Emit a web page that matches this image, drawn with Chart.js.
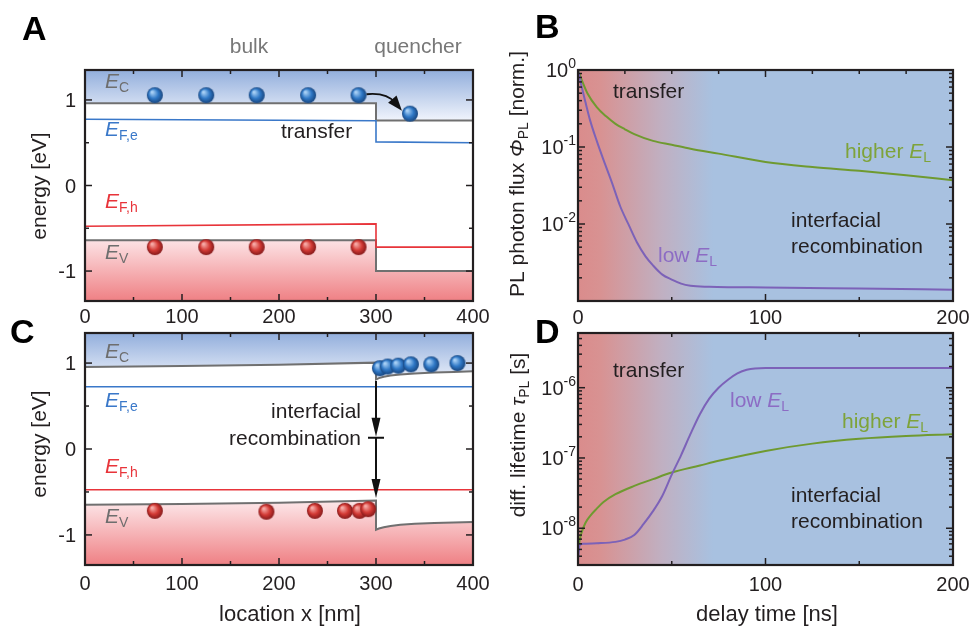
<!DOCTYPE html>
<html>
<head>
<meta charset="utf-8">
<script src="https://cdn.jsdelivr.net/npm/chart.js@4.4.0/dist/chart.umd.min.js"></script>
<style>
  body { margin: 0; background: #fff; }
  #wrap { position: relative; width: 971px; height: 627px; }
  #wrap canvas { position: absolute; left: 0; top: 0; }
</style>
</head>
<body>
<div id="wrap">
  <canvas id="chartA" width="971" height="627"></canvas>
  <canvas id="chartB" width="971" height="627"></canvas>
  <canvas id="chartC" width="971" height="627"></canvas>
  <canvas id="chartD" width="971" height="627"></canvas>
</div>
<script>
// --- Panel A: band diagram during transfer ---
const bandXA = [0, 300, 300, 400];
const ecA = [0.96, 0.96, 0.76, 0.76];
const efeA = [0.775, 0.756, 0.51, 0.50];
const efhA = [-0.477, -0.449, -0.72, -0.72];
const evA = [-0.64, -0.64, -1.0, -1.0];
const electronXA = [72, 125, 177, 230, 282, 335];
const electronYA = [1.055, 1.055, 1.055, 1.055, 1.055, 0.84];
const holeXA = [72, 125, 177, 230, 282];
const holeYA = [-0.72, -0.72, -0.72, -0.72, -0.72];

// --- Panel C: band diagram during interfacial recombination ---
const bandXC = [0, 100, 200, 300, 300, 303, 308, 315, 325, 340, 360, 380, 400];
const ecC = [0.955, 0.965, 0.98, 1.005, 0.81, 0.825, 0.84, 0.855, 0.868, 0.88, 0.89, 0.897, 0.905];
const evC = [-0.65, -0.64, -0.625, -0.60, -0.94, -0.925, -0.91, -0.895, -0.882, -0.87, -0.86, -0.855, -0.85];
const fermiXC = [0, 400];
const efeC = [0.725, 0.725];
const efhC = [-0.475, -0.475];
const electronXC = [304, 312, 323, 336, 357, 384];
const electronYC = [0.94, 0.96, 0.97, 0.985, 0.985, 1.0];
const holeXC = [72, 187, 237, 268, 283, 292];
const holeYC = [-0.72, -0.73, -0.72, -0.72, -0.72, -0.70];
const recombX = 300;
const recombY = [0.79, 0.13, -0.57];

const energyTicks = [1, 0, -1];
const energyTickLabels = ['1', '0', '-1'];
const energyMinor = [0.5, -0.5];
const locationTicks = [0, 100, 200, 300, 400];
const locationTickLabels = ['0', '100', '200', '300', '400'];
const locationMinor = [50, 150, 250, 350];

// --- Panel B: PL transients ---
const timeGreenB = [0, 2, 5, 10, 15, 20, 25, 30, 40, 50, 60, 75, 100, 125, 150, 175, 200];
const fluxGreenB = [1, 0.74, 0.5, 0.33, 0.25, 0.2, 0.17, 0.147, 0.12, 0.107, 0.095, 0.082, 0.064, 0.055, 0.049, 0.043, 0.037];
const timePurpleB = [0, 2, 4, 6.5, 10, 13.6, 18, 22.5, 27, 31.4, 36, 40, 45, 50, 55, 60, 70, 80, 100, 150, 200];
const fluxPurpleB = [1, 0.6, 0.38, 0.22, 0.12, 0.068, 0.035, 0.017, 0.0098, 0.0058, 0.0038, 0.0029, 0.0022, 0.0019, 0.00168, 0.00158, 0.00153, 0.00151, 0.0015, 0.00145, 0.0014];

// --- Panel D: differential lifetime ---
const timePurpleD = [0, 1, 3, 10, 20, 25, 30, 35, 40, 45, 50, 55, 60, 65, 70, 75, 80, 85, 90, 100, 150, 200];
const lifePurpleD = [3.6e-9, 5.8e-9, 6.0e-9, 6.1e-9, 6.4e-9, 6.9e-9, 8e-9, 1.15e-8, 1.75e-8, 2.9e-8, 5.8e-8, 1.1e-7, 2.2e-7, 4.2e-7, 7e-7, 1.0e-6, 1.3e-6, 1.6e-6, 1.8e-6, 1.9e-6, 1.9e-6, 1.9e-6];
const timeGreenD = [0, 1, 2, 4, 6.5, 10, 13.6, 20, 30, 40, 50, 65, 75, 100, 125, 150, 175, 200];
const lifeGreenD = [4.5e-9, 7e-9, 8.8e-9, 1.2e-8, 1.5e-8, 1.9e-8, 2.36e-8, 3.05e-8, 4e-8, 5e-8, 6.2e-8, 7.8e-8, 9.1e-8, 1.26e-7, 1.6e-7, 1.87e-7, 2.05e-7, 2.17e-7];

const timeTicks = [0, 100, 200];
const timeTickLabels = ['0', '100', '200'];
const timeMinor = [50, 150];
const timeMinorTopB = [25, 50, 75, 125, 150, 175];
const fluxTicks = [1, 0.1, 0.01];
const fluxExps = ['0', '-1', '-2'];
const lifeTicks = [1e-6, 1e-7, 1e-8];
const lifeExps = ['-6', '-7', '-8'];

// background shading from "transfer" (red) to "interfacial recombination" (blue)
const bgStopT = [0, 12, 45, 72];
const bgStopColor = ['rgb(218,140,140)', 'rgb(216,146,146)', 'rgb(192,176,194)', 'rgb(168,193,224)'];

const FONT = '"Liberation Sans", Arial, Helvetica, sans-serif';
const INK = '#231f20';
const GRAY_LINE = 'rgb(112,112,112)';
const GRAY_TEXT = 'rgb(110,110,110)';
const BLUE = '#3a78c9';
const RED = '#e8343a';
const GREEN = '#6f9a30';
const PURPLE = '#7c62b8';

const pts = (xs, ys) => xs.map((x, i) => ({ x, y: ys[i] }));

function makeSphere(light, mid, dark, r) {
    const c = document.createElement('canvas');
    c.width = c.height = 2 * r + 2;
    const g = c.getContext('2d');
    const cx = r + 1, cy = r + 1;
    const grad = g.createRadialGradient(cx - r * 0.35, cy - r * 0.4, r * 0.1, cx, cy, r);
    grad.addColorStop(0, light);
    grad.addColorStop(0.55, mid);
    grad.addColorStop(1, dark);
    g.fillStyle = grad;
    g.beginPath();
    g.arc(cx, cy, r, 0, Math.PI * 2);
    g.fill();
    return c;
}
const blueBall = makeSphere('#a8d0f5', '#2f78c6', '#18467f', 8);
const redBall = makeSphere('#f6aaa6', '#d33a35', '#85191a', 8);

function vGradient(top, bottom, c0, c1) {
    return function (ctx) {
        const chart = ctx.chart;
        if (!chart.chartArea) return c1;
        const y = chart.scales.y;
        const g = chart.ctx.createLinearGradient(0, y.getPixelForValue(top), 0, y.getPixelForValue(bottom));
        g.addColorStop(0, c0);
        g.addColorStop(1, c1);
        return g;
    };
}

// draws text made of several pieces (italic E, subscripts, ...)
function drawRich(ctx, x, y, parts, align, color) {
    ctx.save();
    ctx.fillStyle = color;
    ctx.textBaseline = 'alphabetic';
    ctx.textAlign = 'left';
    let total = 0;
    parts.forEach(p => {
        ctx.font = (p.italic ? 'italic ' : '') + (p.bold ? 'bold ' : '') + p.size + 'px ' + FONT;
        p.w = ctx.measureText(p.t).width;
        total += p.w;
    });
    let cx = align === 'right' ? x - total : align === 'center' ? x - total / 2 : x;
    parts.forEach(p => {
        ctx.font = (p.italic ? 'italic ' : '') + (p.bold ? 'bold ' : '') + p.size + 'px ' + FONT;
        ctx.fillText(p.t, cx, y + (p.dy || 0));
        cx += p.w;
    });
    ctx.restore();
}

function drawTexts(ctx, texts) {
    (texts || []).forEach(t => {
        if (t.rotate) {
            ctx.save();
            ctx.translate(t.x, t.y);
            ctx.rotate(-Math.PI / 2);
            drawRich(ctx, 0, 0, t.parts, 'center', t.color);
            ctx.restore();
        } else {
            drawRich(ctx, t.x, t.y, t.parts, t.align || 'left', t.color);
        }
    });
}

const plain = (t, size) => [{ t, size: size || 21 }];
const sym = (main, sub) => [{ t: main, size: 21, italic: true }, { t: sub, size: 14, dy: 4 }];

function drawFrame(chart, cfg) {
    const ctx = chart.ctx, ca = chart.chartArea;
    const xs = chart.scales.x, ys = chart.scales.y;
    ctx.save();
    ctx.strokeStyle = INK;
    ctx.lineWidth = 1.5;
    const seg = (x1, y1, x2, y2) => { ctx.beginPath(); ctx.moveTo(x1, y1); ctx.lineTo(x2, y2); ctx.stroke(); };
    const xt = (vals, len, bottom, top) => vals.forEach(v => {
        const px = xs.getPixelForValue(v);
        if (bottom) seg(px, ca.bottom, px, ca.bottom - len);
        if (top) seg(px, ca.top, px, ca.top + len);
    });
    const yt = (vals, len) => vals.forEach(v => {
        const py = ys.getPixelForValue(v);
        seg(ca.left, py, ca.left + len, py);
        seg(ca.right, py, ca.right - len, py);
    });
    xt(cfg.xMajor, 7, true, true);
    xt(cfg.xMinor, 4, true, !cfg.xMinorTop);
    if (cfg.xMinorTop) xt(cfg.xMinorTop, 4, false, true);
    yt(cfg.yMajor, 7);
    yt(cfg.yMinor, 4);
    ctx.lineWidth = 2.2;
    ctx.strokeRect(ca.left, ca.top, ca.right - ca.left, ca.bottom - ca.top);

    ctx.fillStyle = INK;
    ctx.font = '20px ' + FONT;
    ctx.textAlign = 'center';
    ctx.textBaseline = 'alphabetic';
    cfg.xMajor.forEach((v, i) => ctx.fillText(cfg.xLabels[i], xs.getPixelForValue(v), cfg.xLabelY));
    cfg.yMajor.forEach((v, i) => {
        const py = ys.getPixelForValue(v);
        if (cfg.yExps) {
            const right = ca.left - 2;
            ctx.textAlign = 'right';
            ctx.font = '14px ' + FONT;
            const w = ctx.measureText(cfg.yExps[i]).width;
            ctx.fillText(cfg.yExps[i], right, py - 2);
            ctx.font = '20px ' + FONT;
            ctx.fillText('10', right - w, py + 7);
        } else {
            ctx.textAlign = 'right';
            ctx.fillText(cfg.yLabels[i], ca.left - 9, py + 7);
        }
    });
    ctx.restore();
}

function drawBg(chart) {
    const ctx = chart.ctx, ca = chart.chartArea, xs = chart.scales.x;
    const g = ctx.createLinearGradient(ca.left, 0, ca.right, 0);
    bgStopT.forEach((t, i) => {
        g.addColorStop((xs.getPixelForValue(t) - ca.left) / (ca.right - ca.left), bgStopColor[i]);
    });
    ctx.save();
    ctx.fillStyle = g;
    ctx.fillRect(ca.left, ca.top, ca.right - ca.left, ca.bottom - ca.top);
    ctx.restore();
}

function framePlugin(cfg) {
    return {
        id: 'frame',
        beforeDatasetsDraw(chart) { if (cfg.bg) drawBg(chart); },
        afterDatasetsDraw(chart) {
            drawFrame(chart, cfg);
            if (cfg.extra) cfg.extra(chart);
            drawTexts(chart.ctx, cfg.texts);
        }
    };
}

function arrowHead(ctx, tipX, tipY, ang, len, half) {
    ctx.beginPath();
    ctx.moveTo(tipX, tipY);
    ctx.lineTo(tipX - len * Math.cos(ang) + half * Math.sin(ang), tipY - len * Math.sin(ang) - half * Math.cos(ang));
    ctx.lineTo(tipX - len * Math.cos(ang) - half * Math.sin(ang), tipY - len * Math.sin(ang) + half * Math.cos(ang));
    ctx.closePath();
    ctx.fill();
}

function bandDatasets(bx, ec, ev, fx, efe, fh, efh, ex, ey, hx, hy) {
    return [
        { data: pts(ex, ey), pointStyle: blueBall, pointRadius: 8, order: 0 },
        { data: pts(hx, hy), pointStyle: redBall, pointRadius: 8, order: 0 },
        { data: pts(bx, ec), showLine: true, borderColor: GRAY_LINE, borderWidth: 2, pointRadius: 0, tension: 0,
          fill: 'end', backgroundColor: vGradient(1.35, 0.76, 'rgb(146,174,220)', 'rgb(240,244,252)'), order: 2 },
        { data: pts(bx, ev), showLine: true, borderColor: GRAY_LINE, borderWidth: 2, pointRadius: 0, tension: 0,
          fill: 'start', backgroundColor: vGradient(-0.6, -1.35, 'rgb(253,232,234)', 'rgb(239,128,132)'), order: 2 },
        { data: pts(fx, efe), showLine: true, borderColor: BLUE, borderWidth: 1.6, pointRadius: 0, tension: 0, fill: false, order: 1 },
        { data: pts(fh, efh), showLine: true, borderColor: RED, borderWidth: 1.6, pointRadius: 0, tension: 0, fill: false, order: 1 }
    ];
}

function baseOptions(pad, yType, yMin, yMax, xMax) {
    return {
        responsive: false,
        animation: false,
        devicePixelRatio: 1,
        layout: { padding: pad },
        scales: {
            x: { type: 'linear', display: false, min: 0, max: xMax },
            y: { type: yType, display: false, min: yMin, max: yMax }
        },
        plugins: { legend: { display: false }, tooltip: { enabled: false }, filler: { drawTime: 'beforeDatasetsDraw' } },
        elements: { point: { radius: 0 } }
    };
}

// Panel A
new Chart(document.getElementById('chartA'), {
    type: 'scatter',
    data: { datasets: bandDatasets(bandXA, ecA, evA, bandXA, efeA, bandXA, efhA, electronXA, electronYA, holeXA, holeYA) },
    options: baseOptions({ left: 85, top: 70, right: 498, bottom: 326 }, 'linear', -1.35, 1.35, 400),
    plugins: [framePlugin({
        xMajor: locationTicks, xMinor: locationMinor, xLabels: locationTickLabels, xLabelY: 323,
        yMajor: energyTicks, yMinor: energyMinor, yLabels: energyTickLabels,
        texts: [
            { x: 22, y: 40, parts: [{ t: 'A', size: 34, bold: true }], color: '#000' },
            { x: 249, y: 53, parts: plain('bulk'), align: 'center', color: 'rgb(120,120,120)' },
            { x: 418, y: 53, parts: plain('quencher'), align: 'center', color: 'rgb(120,120,120)' },
            { x: 46, y: 186, parts: plain('energy [eV]'), rotate: true, color: INK },
            { x: 105, y: 88, parts: sym('E', 'C'), color: GRAY_TEXT },
            { x: 105, y: 136, parts: sym('E', 'F,e'), color: BLUE },
            { x: 105, y: 208, parts: sym('E', 'F,h'), color: RED },
            { x: 105, y: 259, parts: sym('E', 'V'), color: GRAY_TEXT },
            { x: 281, y: 138, parts: plain('transfer'), color: INK }
        ],
        extra(chart) {
            const xs = chart.scales.x, ys = chart.scales.y, ctx = chart.ctx;
            const i = electronXA.length - 2;
            const sx = xs.getPixelForValue(electronXA[i]) + 8, sy = ys.getPixelForValue(electronYA[i]) - 1;
            const tx = xs.getPixelForValue(electronXA[i + 1]) - 8, ty = ys.getPixelForValue(electronYA[i + 1]) - 3;
            const cx = sx + 20, cy = sy - 2;
            const ang = Math.atan2(ty - cy, tx - cx);
            ctx.save();
            ctx.strokeStyle = '#111';
            ctx.fillStyle = '#111';
            ctx.lineWidth = 1.8;
            ctx.beginPath();
            ctx.moveTo(sx, sy);
            ctx.quadraticCurveTo(cx, cy, tx - 10 * Math.cos(ang), ty - 10 * Math.sin(ang));
            ctx.stroke();
            arrowHead(ctx, tx, ty, ang, 15, 5.5);
            ctx.restore();
        }
    })]
});

// Panel B
new Chart(document.getElementById('chartB'), {
    type: 'scatter',
    data: {
        datasets: [
            { data: pts(timePurpleB, fluxPurpleB), showLine: true, borderColor: PURPLE, borderWidth: 2, pointRadius: 0, cubicInterpolationMode: 'monotone' },
            { data: pts(timeGreenB, fluxGreenB), showLine: true, borderColor: GREEN, borderWidth: 2, pointRadius: 0, cubicInterpolationMode: 'monotone' }
        ]
    },
    options: baseOptions({ left: 578, top: 70, right: 18, bottom: 326 }, 'logarithmic', 1e-3, 1, 200),
    plugins: [framePlugin({
        bg: true,
        xMajor: timeTicks, xMinor: timeMinor, xMinorTop: timeMinorTopB, xLabels: timeTickLabels, xLabelY: 324,
        yMajor: fluxTicks, yMinor: logMinor(1e-3, 1), yExps: fluxExps,
        texts: [
            { x: 535, y: 38, parts: [{ t: 'B', size: 34, bold: true }], color: '#000' },
            { x: 524, y: 174, rotate: true, color: INK, parts: [
                { t: 'PL photon flux ', size: 21 }, { t: '\u03A6', size: 21, italic: true },
                { t: 'PL', size: 14, dy: 4 }, { t: ' [norm.]', size: 21 }] },
            { x: 613, y: 98, parts: plain('transfer'), color: INK },
            { x: 845, y: 158, parts: [{ t: 'higher ', size: 21 }].concat(sym('E', 'L')), color: '#7ea33a' },
            { x: 658, y: 262, parts: [{ t: 'low ', size: 21 }].concat(sym('E', 'L')), color: '#8c6cc4' },
            { x: 791, y: 227, parts: plain('interfacial'), color: INK },
            { x: 791, y: 253, parts: plain('recombination'), color: INK }
        ]
    })]
});

// Panel C
new Chart(document.getElementById('chartC'), {
    type: 'scatter',
    data: { datasets: bandDatasets(bandXC, ecC, evC, fermiXC, efeC, fermiXC, efhC, electronXC, electronYC, holeXC, holeYC) },
    options: baseOptions({ left: 85, top: 333, right: 498, bottom: 62 }, 'linear', -1.35, 1.35, 400),
    plugins: [framePlugin({
        xMajor: locationTicks, xMinor: locationMinor, xLabels: locationTickLabels, xLabelY: 590,
        yMajor: energyTicks, yMinor: energyMinor, yLabels: energyTickLabels,
        texts: [
            { x: 10, y: 343, parts: [{ t: 'C', size: 34, bold: true }], color: '#000' },
            { x: 46, y: 444, parts: plain('energy [eV]'), rotate: true, color: INK },
            { x: 290, y: 621, parts: plain('location x [nm]', 22), align: 'center', color: INK },
            { x: 105, y: 358, parts: sym('E', 'C'), color: GRAY_TEXT },
            { x: 105, y: 407, parts: sym('E', 'F,e'), color: BLUE },
            { x: 105, y: 473, parts: sym('E', 'F,h'), color: RED },
            { x: 105, y: 523, parts: sym('E', 'V'), color: GRAY_TEXT },
            { x: 361, y: 418, parts: plain('interfacial'), align: 'right', color: INK },
            { x: 361, y: 445, parts: plain('recombination'), align: 'right', color: INK }
        ],
        extra(chart) {
            const xs = chart.scales.x, ys = chart.scales.y, ctx = chart.ctx;
            const x = xs.getPixelForValue(recombX);
            const [y0, y1, y2] = recombY.map(v => ys.getPixelForValue(v));
            ctx.save();
            ctx.strokeStyle = '#111';
            ctx.fillStyle = '#111';
            ctx.lineWidth = 2;
            ctx.beginPath();
            ctx.moveTo(x, y0); ctx.lineTo(x, y1 - 12);
            ctx.moveTo(x, y1); ctx.lineTo(x, y2 - 12);
            ctx.moveTo(x - 8, y1); ctx.lineTo(x + 8, y1);
            ctx.stroke();
            arrowHead(ctx, x, y1 - 1, Math.PI / 2, 19, 4.5);
            arrowHead(ctx, x, y2, Math.PI / 2, 19, 4.5);
            ctx.restore();
        }
    })]
});

// Panel D
new Chart(document.getElementById('chartD'), {
    type: 'scatter',
    data: {
        datasets: [
            { data: pts(timePurpleD, lifePurpleD), showLine: true, borderColor: PURPLE, borderWidth: 2, pointRadius: 0, cubicInterpolationMode: 'monotone' },
            { data: pts(timeGreenD, lifeGreenD), showLine: true, borderColor: GREEN, borderWidth: 2, pointRadius: 0, cubicInterpolationMode: 'monotone' }
        ]
    },
    options: baseOptions({ left: 578, top: 333, right: 18, bottom: 62 }, 'logarithmic', 3e-9, 6e-6, 200),
    plugins: [framePlugin({
        bg: true,
        xMajor: timeTicks, xMinor: timeMinor, xLabels: timeTickLabels, xLabelY: 591,
        yMajor: lifeTicks, yMinor: logMinor(3e-9, 6e-6), yExps: lifeExps,
        texts: [
            { x: 535, y: 343, parts: [{ t: 'D', size: 34, bold: true }], color: '#000' },
            { x: 525, y: 435, rotate: true, color: INK, parts: [
                { t: 'diff. lifetime ', size: 21 }, { t: '\u03C4', size: 21, italic: true },
                { t: 'PL', size: 14, dy: 4 }, { t: ' [s]', size: 21 }] },
            { x: 767, y: 621, parts: plain('delay time [ns]', 22), align: 'center', color: INK },
            { x: 613, y: 377, parts: plain('transfer'), color: INK },
            { x: 730, y: 407, parts: [{ t: 'low ', size: 21 }].concat(sym('E', 'L')), color: '#8c6cc4' },
            { x: 842, y: 428, parts: [{ t: 'higher ', size: 21 }].concat(sym('E', 'L')), color: '#7ea33a' },
            { x: 791, y: 502, parts: plain('interfacial'), color: INK },
            { x: 791, y: 528, parts: plain('recombination'), color: INK }
        ]
    })]
});

// minor tick positions of a log axis: 2..9 times each power of ten
function logMinor(min, max) {
    const out = [];
    for (let e = Math.floor(Math.log10(min)); e <= Math.ceil(Math.log10(max)); e++) {
        for (let k = 2; k <= 9; k++) {
            const v = k * Math.pow(10, e);
            if (v > min && v < max) out.push(v);
        }
    }
    return out;
}
</script>
</body>
</html>
